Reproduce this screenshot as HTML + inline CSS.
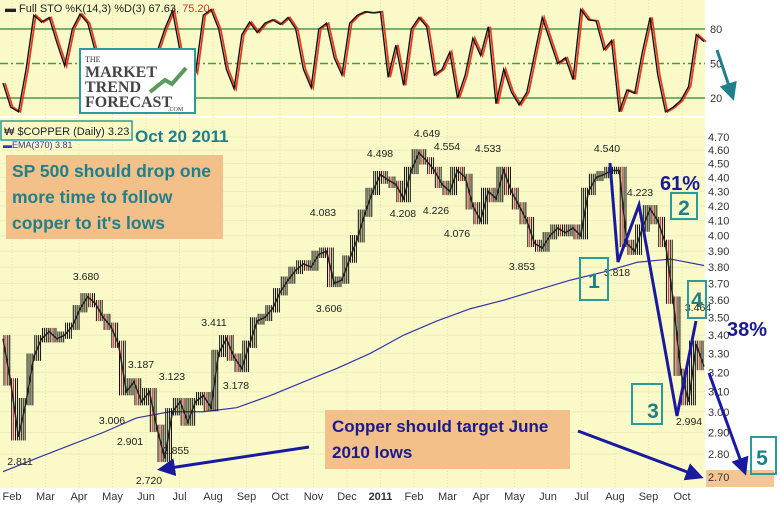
<!DOCTYPE html>
<html><head><meta charset="utf-8"><style>
html,body{margin:0;padding:0;background:#fff;}
svg{display:block;font-family:"Liberation Sans",sans-serif;}
</style></head><body>
<svg id="chart" width="780" height="508" viewBox="0 0 780 508" xmlns="http://www.w3.org/2000/svg">
<rect x="0" y="0" width="705" height="116" fill="#fafac8"/>
<rect x="0" y="118" width="705" height="370" fill="#fafac8"/>
<g id="grid"></g>
<g id="stoch"></g>
<g id="price"></g>
<g id="axes" font-size="11" fill="#333"></g>
</svg>
<script>
// ---- data ----
const monthLabels = ["Feb","Mar","Apr","May","Jun","Jul","Aug","Sep","Oct","Nov","Dec","2011","Feb","Mar","Apr","May","Jun","Jul","Aug","Sep","Oct"];
const priceTicks = [4.70,4.60,4.50,4.40,4.30,4.20,4.10,4.00,3.90,3.80,3.70,3.60,3.50,3.40,3.30,3.20,3.10,3.00,2.90,2.80];
const stochTicks = [80,50,20];
const closes = [3.38,3.15, 2.88,3.05,3.28,3.38, 3.42,3.38,3.40,3.45,3.55, 3.62,3.58,3.50,3.45,
 3.35,3.10,3.15,3.05, 3.10,2.92,2.78,3.00,3.05, 2.95,3.05,3.08,3.02, 3.30,3.38,3.28,3.22,
 3.35,3.48,3.50,3.55,3.65, 3.72,3.78,3.82,3.80, 3.88,3.90,3.70,3.72,3.85, 3.98,4.15,4.30,4.42,
 4.38,4.35,4.25,4.45, 4.58,4.52,4.45,4.35, 4.30,4.45,4.40,4.20,4.10, 4.30,4.25,4.45,4.30,
 4.20,4.10,3.95,3.92, 4.00,4.05,4.02,4.05,4.00, 4.30,4.40,4.42,4.45, 4.45,3.95,3.90,4.05,4.18,
 4.10,3.95,3.60,3.20, 3.05,3.35,3.23];
const ema = [2.72,2.78,2.84,2.90,2.97,3.00,3.00,3.02,3.08,3.15,3.22,3.30,3.40,3.48,3.55,3.60,3.66,3.72,3.77,3.83,3.85,3.81];
const stochK = [33,12,8,45,92,86,90,68,48,80,93,85,60,35,20,28,45,30,20,45,60,80,96,60,58,42,92,97,80,45,28,75,86,77,85,88,84,90,80,45,29,80,85,55,40,85,92,95,94,95,38,66,31,80,90,82,40,45,60,20,40,72,57,82,15,45,25,14,25,58,90,70,50,55,36,97,88,87,62,70,8,27,24,60,90,40,8,12,18,30,75,69];

// ---- scales ----
const X0=3, X1=704;
const xW = i => X0 + i*(X1-X0)/(closes.length-1);
const xE = i => X0 + i*(X1-X0)/(ema.length-1);
const xS = i => X0 + i*(X1-X0)/(stochK.length-1);
const xM = m => 12 + m*33.5;
const yP = p => 137 + (Math.log(4.7)-Math.log(p))*612;
const yS = v => 98 - (v-20)*1.15;
const NS="http://www.w3.org/2000/svg";
function mk(tag, attrs, parent){const e=document.createElementNS(NS,tag);for(const k in attrs)e.setAttribute(k,attrs[k]);parent.appendChild(e);return e;}

const grid=document.getElementById('grid');
monthLabels.forEach((m,i)=>{
  const l=mk('line',{x1:xM(i),x2:xM(i),y1:0,y2:488,stroke:'#e4e4b0','stroke-width':1,'stroke-dasharray':'1,2'},grid);
  
  
});
priceTicks.forEach(p=>{
  const l=mk('line',{x1:0,x2:705,y1:yP(p),y2:yP(p),stroke:'#ececbc','stroke-width':1},grid);
  
  
});

// stochastic
const st=document.getElementById('stoch');
stochTicks.forEach(v=>{
  const l=mk('line',{x1:0,x2:705,y1:yS(v),y2:yS(v),stroke:'#4a9a4a','stroke-width':1.5,'stroke-dasharray':v==50?'8,3,2,3':'none'},st);
  
  
});
const dLine=mk('polyline',{points:stochK.map((v,i)=>(xS(i)+2)+','+yS(v)).join(' '),fill:'none',stroke:'#e83a20','stroke-width':1.8},st);


const kLine=mk('polyline',{points:stochK.map((v,i)=>xS(i)+','+yS(v)).join(' '),fill:'none',stroke:'#111','stroke-width':1.4},st);



// price
const pr=document.getElementById('price');
const emaL=mk('polyline',{points:ema.map((v,i)=>xE(i)+','+yP(v)).join(' '),fill:'none',stroke:'#3535a8','stroke-width':1.2},pr);


closes.forEach((c,i)=>{
  if(i==0)return;
  const p=closes[i-1];
  const hi=Math.max(p,c)*1.006, lo=Math.min(p,c)*0.994;
  const xa=xW(i-1), xb=xW(i);
  for(let k=0;k<4;k++){
    const xx=xa+(xb-xa)*(k+0.5)/4;
    const b=mk('line',{x1:xx,x2:xx,y1:yP(hi),y2:yP(lo),stroke:(k==1&&c<p)?'#d0203a':'#111','stroke-width':1},pr);
    
    
  }
});
const cl=mk('polyline',{points:closes.map((v,i)=>xW(i)+','+yP(v)).join(' '),fill:'none',stroke:'#222','stroke-width':1.5},pr);



// axes
const ax=document.getElementById('axes');
priceTicks.forEach(p=>{
  const t=mk('text',{x:708,y:yP(p)+4},ax);t.textContent=p.toFixed(2);
  
  
});
stochTicks.forEach(v=>{
  const t=mk('text',{x:710,y:yS(v)+4},ax);t.textContent=v;
  
  
});
monthLabels.forEach((m,i)=>{
  const t=mk('text',{x:xM(i),y:500,'text-anchor':'middle','font-weight':m=='2011'?'bold':'normal'},ax);t.textContent=m;
  
  
});
</script>
<svg x="0" y="0" width="780" height="508" style="position:absolute;left:0;top:0">
<defs>
<marker id="ah" markerWidth="6" markerHeight="6" refX="4" refY="3" orient="auto"><path d="M0,0 L6,3 L0,6 z" fill="#1a1aa0"/></marker>
<marker id="ah2" markerWidth="6" markerHeight="6" refX="4" refY="3" orient="auto"><path d="M0,0 L6,3 L0,6 z" fill="#1f7f8a"/></marker>
</defs>
<g font-family="Liberation Sans, sans-serif">
<text x="5" y="12" font-size="11" fill="#222">▬ Full STO %K(14,3) %D(3) 67.63, <tspan fill="#e03020">75.20</tspan></text>
<g>
<rect x="80" y="49" width="115" height="64" fill="#fff" stroke="#2a9a9a" stroke-width="2"/>
<text x="85" y="62" font-family="Liberation Serif, serif" font-size="8" fill="#333">THE</text>
<text x="85" y="77" font-family="Liberation Serif, serif" font-size="16" fill="#444" font-weight="bold">MARKET</text>
<text x="85" y="92" font-family="Liberation Serif, serif" font-size="16" fill="#444" font-weight="bold">TREND</text>
<text x="85" y="107" font-family="Liberation Serif, serif" font-size="16" fill="#444" font-weight="bold">FORECAST</text>
<text x="168" y="111" font-family="Liberation Serif, serif" font-size="6" fill="#333">.COM</text>
<path d="M150,92 L165,80 L172,84 L186,68" stroke="#5a9a5a" stroke-width="4" fill="none"/>
</g>
<rect x="1" y="121" width="131" height="19" fill="none" stroke="#2a9a9a" stroke-width="1.5"/>
<text x="4" y="135" font-size="11" fill="#222">₩ $COPPER (Daily) 3.23</text>
<text x="135" y="142" font-size="17" font-weight="bold" fill="#1f7f8a">Oct 20 2011</text>
<text x="3" y="148" font-size="9" fill="#3535a8">▬EMA(370) 3.81</text>
<g>
<rect x="6" y="155" width="217" height="84" fill="#f2c088"/>
<text x="12" y="177" font-size="17.5" font-weight="bold" fill="#1f7f8a">SP 500 should drop one</text>
<text x="12" y="203" font-size="17.5" font-weight="bold" fill="#1f7f8a">more time to follow</text>
<text x="12" y="229" font-size="17.5" font-weight="bold" fill="#1f7f8a">copper to it's lows</text>
</g>
<g>
<rect x="325" y="410" width="245" height="59" fill="#f2c088"/>
<text x="332" y="432" font-size="17" font-weight="bold" fill="#1a1a90">Copper should target June</text>
<text x="332" y="458" font-size="17" font-weight="bold" fill="#1a1a90">2010 lows</text>
</g>
<rect x="706" y="470" width="68" height="17" fill="#f2c088" opacity="0.9"/>
<text x="708" y="481" font-size="11" fill="#333">2.70</text>
<g font-size="10.5" fill="#222" text-anchor="middle">
<text x="20" y="465">2.811</text><text x="86" y="280">3.680</text><text x="112" y="424">3.006</text>
<text x="130" y="445">2.901</text><text x="141" y="368">3.187</text><text x="176" y="454">2.855</text>
<text x="172" y="380">3.123</text><text x="149" y="484">2.720</text><text x="214" y="326">3.411</text>
<text x="236" y="389">3.178</text><text x="323" y="216">4.083</text><text x="329" y="312">3.606</text>
<text x="380" y="157">4.498</text><text x="403" y="217">4.208</text><text x="427" y="137">4.649</text>
<text x="447" y="150">4.554</text><text x="436" y="214">4.226</text><text x="457" y="237">4.076</text>
<text x="488" y="152">4.533</text><text x="522" y="270">3.853</text><text x="607" y="152">4.540</text>
<text x="640" y="196">4.223</text><text x="617" y="276">3.818</text><text x="689" y="425">2.994</text>
<text x="698" y="311">3.464</text>
</g>
<polyline points="610,163 618,262 639,205 677,416 696,321" fill="none" stroke="#1a1aa0" stroke-width="3"/>
<line x1="709" y1="373" x2="744" y2="470" stroke="#1a1aa0" stroke-width="3" marker-end="url(#ah)"/>
<line x1="578" y1="431" x2="698" y2="476" stroke="#1a1aa0" stroke-width="3" marker-end="url(#ah)"/>
<line x1="309" y1="447" x2="163" y2="469" stroke="#1a1aa0" stroke-width="3" marker-end="url(#ah)"/>
<line x1="717" y1="50" x2="732" y2="95" stroke="#1f7f8a" stroke-width="3" marker-end="url(#ah2)"/>
<g fill="none" stroke="#2a9a9a" stroke-width="2">
<rect x="580" y="258" width="28" height="42"/><rect x="671" y="193" width="26" height="26"/>
<rect x="632" y="384" width="30" height="40"/><rect x="688" y="281" width="18" height="37"/>
<rect x="751" y="437" width="25" height="37"/>
</g>
<g font-size="21" font-weight="bold" fill="#1f7f8a" text-anchor="middle">
<text x="594" y="288">1</text><text x="684" y="215">2</text><text x="653" y="418">3</text>
<text x="697" y="307">4</text><text x="762" y="465">5</text>
</g>
<text x="660" y="190" font-size="20" font-weight="bold" fill="#1a1a90">61%</text>
<text x="727" y="336" font-size="20" font-weight="bold" fill="#1a1a90">38%</text>
</g>
</svg>
</body></html>
